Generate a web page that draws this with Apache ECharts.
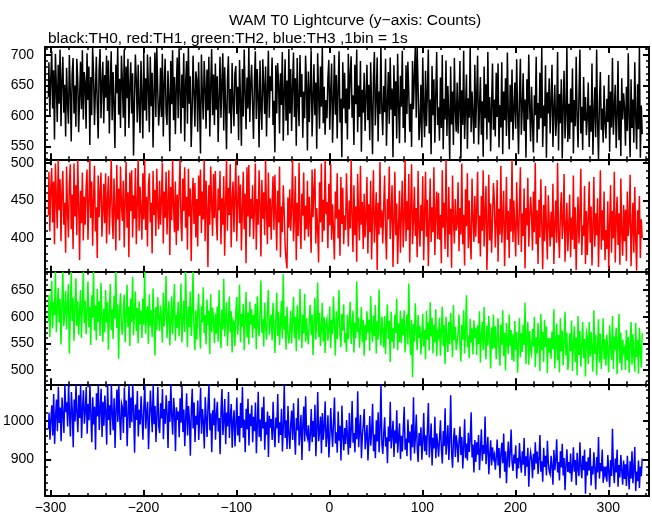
<!DOCTYPE html>
<html><head><meta charset="utf-8">
<script src="https://cdn.jsdelivr.net/npm/echarts@6/dist/echarts.min.js"></script>
<style>html,body{margin:0;padding:0;background:#fff}#c{width:652px;height:515px}</style>
</head><body><div id="c"></div>
<script>
const TITLE = 'WAM T0 Lightcurve (y\u2212axis: Counts)';
const SUBTITLE = 'black:TH0, red:TH1, green:TH2, blue:TH3 ,1bin = 1s';
const T0 = -302;   // time of first bin (s)
const BIN = 1;     // bin size (s)
const X_RANGE = [-305.7, 343.8];
const X_MAJOR = [-300,-200,-100,0,100,200,300];
const X_MINOR = [-300,-280,-260,-240,-220,-200,-180,-160,-140,-120,-100,-80,-60,-40,-20,0,20,40,60,80,100,120,140,160,180,200,220,240,260,280,300,320,340];
const Y_RANGES = [[528.6,713.2],[355.8,504.5],[473.2,684.3],[804.9,1094.3]];
const Y_MAJOR = [[550,600,650,700],[400,450,500],[500,550,600,650],[900,1000]];
const Y_MINOR = [
  [530,540,550,560,570,580,590,600,610,620,630,640,650,660,670,680,690,700,710],
  [360,370,380,390,400,410,420,430,440,450,460,470,480,490,500],
  [480,490,500,510,520,530,540,550,560,570,580,590,600,610,620,630,640,650,660,670,680],
  [820,840,860,880,900,920,940,960,980,1000,1020,1040,1060,1080]
];
const COLORS = ['#000000','#ff0000','#00ff00','#0000ff'];

const TH0 = [
631,688,598,662,706,612,675,561,702,648,590,684,620,709,583,657,697,605,651,566,
679,622,587,700,641,558,668,695,604,650,582,694,660,573,631,689,611,708,594,672,
655,579,703,626,681,552,664,601,713,670,585,640,697,617,563,676,710,596,652,689,
588,667,630,699,608,691,571,649,706,593,672,619,547,684,637,713,602,661,580,699,
654,597,709,566,681,629,694,580,648,688,604,670,535,622,701,658,589,684,617,572,
690,633,563,705,609,662,592,701,649,573,697,616,671,548,638,704,598,713,646,584,
614,679,598,702,566,652,694,606,585,674,631,542,690,619,708,593,664,570,647,696,
596,711,640,571,668,613,703,558,651,690,587,713,620,665,549,608,699,637,582,673,
660,574,688,617,538,701,635,594,690,646,579,676,609,697,566,650,710,601,668,585,
686,610,665,557,628,697,597,652,703,576,680,615,545,659,698,604,644,571,687,625,
583,669,682,603,648,560,692,626,551,677,599,709,640,578,663,612,713,590,651,684,
619,562,657,706,595,677,633,548,691,614,577,693,650,603,681,566,640,707,597,665,
641,696,585,625,540,683,604,687,652,571,670,618,705,559,636,693,592,658,568,710,
604,677,575,646,704,598,662,551,695,620,583,700,631,669,564,640,596,699,651,543,
673,590,644,708,566,627,685,601,655,546,703,637,579,681,615,713,588,648,569,626,
596,661,692,577,639,686,556,621,700,602,667,563,645,706,589,628,532,688,612,671,
588,645,561,702,611,667,698,597,634,552,684,619,709,573,650,598,690,541,643,605,
671,575,632,684,593,651,560,688,617,537,662,705,584,627,696,558,640,603,713,611,
568,649,606,694,551,621,672,587,696,610,645,532,683,600,657,563,702,618,555,666,
615,707,580,644,556,683,603,689,637,574,620,549,690,611,664,713,597,713,648,560,
590,651,548,696,612,565,674,583,638,709,571,627,537,682,601,660,556,633,705,585,
614,559,663,580,700,545,628,594,691,567,649,603,529,681,586,640,552,695,609,574,
655,571,618,690,530,642,585,707,562,611,668,546,629,597,713,573,640,602,554,684,
580,633,699,553,610,664,569,624,533,681,596,652,561,705,589,631,542,615,686,577,
627,566,671,598,686,548,618,581,688,537,640,593,662,567,704,604,545,651,590,676,
560,610,655,579,693,604,537,632,694,569,612,670,575,627,531,660,594,701,616,558,
648,589,540,634,601,697,556,621,578,671,596,713,549,617,583,683,531,639,604,662,
571,625,684,549,609,651,567,596,705,543,636,588,660,530,618,674,563,602,713,557,
620,562,645,589,678,538,626,583,697,601,548,633,709,571,615,544,664,592,631,568,
598,655,549,617,574,686,536,603,647,565,709,590,529,624,672,577,612,556,650,588,
563,628,590,667,541,640,581,695,569,612,651,547,601,690,560,625,534,662,594,637,
612,551,648,575,703,594,532,660,580,627,556,688,599,545,652,578,713,531,617,570
];
const TH1 = [
430,488,409,466,493,421,475,392,499,452,413,504,437,478,396,461,489,418,447,381,
495,437,401,472,498,412,458,386,499,429,470,404,504,446,371,463,420,487,397,455,
418,467,491,398,445,504,427,475,390,452,496,409,441,374,483,428,460,487,402,437,
472,420,486,393,451,482,405,448,504,430,399,479,438,384,497,425,466,397,495,444,
423,476,388,450,501,414,461,375,487,436,490,401,457,426,493,392,446,504,410,468,
437,398,486,425,504,411,455,389,470,486,421,447,380,489,431,464,403,492,440,412,
476,418,451,500,393,462,427,488,405,446,490,378,468,424,504,443,408,475,391,458,
410,463,504,422,396,479,436,494,414,455,385,492,429,466,370,447,480,419,473,401,
452,389,483,430,491,407,462,425,504,396,476,440,362,470,418,495,446,403,485,427,
489,424,397,466,437,489,392,453,418,482,377,446,504,410,467,431,498,388,451,475,
408,457,504,396,446,483,420,471,384,437,488,412,459,367,494,429,497,402,452,426,
470,399,438,499,385,452,418,490,443,376,477,426,461,404,504,434,392,487,415,453,
398,446,482,411,484,432,384,463,421,495,375,442,408,470,436,391,372,360,454,414,
465,410,441,504,396,428,482,371,447,403,500,421,386,459,430,487,397,443,412,476,
402,455,422,381,491,428,463,492,393,440,412,368,474,421,499,395,451,410,504,432,
448,387,472,417,499,398,445,411,372,462,426,486,400,438,377,481,419,467,392,430,
411,486,435,389,450,413,504,427,382,470,404,442,369,485,429,397,496,418,448,386,
459,401,430,481,380,445,408,476,372,433,490,394,426,461,358,447,405,501,414,437,
393,441,483,410,372,452,425,495,399,433,470,362,421,488,404,446,366,417,463,381,
432,476,388,425,504,396,449,411,485,368,436,498,392,423,468,403,440,375,489,414,
389,444,410,482,371,430,488,402,451,363,420,479,395,441,408,494,378,433,462,399,
460,398,431,367,490,414,447,386,504,422,375,468,405,439,361,483,425,393,452,410,
419,474,383,440,405,499,392,431,364,465,416,486,387,450,400,372,479,427,395,456,
402,437,488,393,430,376,456,410,490,389,435,469,358,414,484,397,446,381,424,473,
451,388,420,477,369,439,405,496,394,428,463,363,417,481,398,436,374,452,409,504,
395,450,412,376,474,421,391,446,494,382,433,403,466,360,440,417,480,389,428,455,
430,384,462,408,500,392,437,366,451,401,478,419,359,444,396,469,412,372,457,421,
389,435,401,472,366,418,450,394,500,408,374,432,461,399,421,485,369,413,447,383,
415,458,375,427,398,483,386,441,358,414,455,393,430,492,378,417,403,469,366,436,
378,426,475,394,442,364,415,481,389,433,404,453,362,418,490,385,437,397,462,371,
411,386,449,359,420,470,381,436,400,488,368,425,455,391,433,365,479,408,377,444,
396,438,370,462,403,421,484,363,412,447,381,468,399,357,437,405,456,374,425,400
];
const TH2 = [
590,641,562,619,667,578,628,603,684,571,615,654,589,633,548,622,684,582,609,648,
576,624,661,531,602,684,592,635,555,617,672,583,629,566,611,650,560,620,684,588,
630,567,609,666,580,618,547,640,598,684,574,621,556,652,590,629,564,663,604,553,
615,571,650,589,627,538,608,661,575,614,558,639,596,684,579,623,521,610,644,583,
566,612,641,552,601,660,580,619,545,634,590,675,565,607,647,573,616,550,629,586,
611,560,634,585,684,568,603,620,549,642,583,612,562,653,591,527,618,574,637,598,
573,621,597,551,645,582,609,676,560,600,629,546,588,638,567,613,661,555,604,579,
628,563,601,662,552,588,630,571,684,606,543,619,580,647,564,607,684,576,537,612,
557,606,643,581,540,620,589,655,569,603,548,632,584,611,530,642,571,617,595,550,
606,568,619,553,650,585,541,613,576,671,563,598,627,545,587,638,571,610,533,594,
589,545,609,637,566,596,660,552,605,581,624,537,592,646,561,608,548,628,585,614,
560,603,578,624,539,638,584,563,609,668,570,595,544,626,581,557,612,650,566,593,
604,556,626,580,532,594,645,564,609,547,587,630,559,680,575,601,538,619,570,550,
575,611,550,594,637,560,600,535,621,583,556,652,590,541,604,568,643,553,597,565,
548,598,622,566,604,528,586,635,557,593,664,562,607,545,580,626,553,599,532,587,
596,555,576,619,541,594,567,638,584,527,610,558,597,650,566,543,605,574,623,551,
570,534,603,558,592,628,549,580,611,533,589,560,666,571,598,542,577,618,553,594,
527,585,556,610,570,594,536,639,577,553,602,564,622,531,591,557,651,575,546,600,
573,542,601,530,584,623,558,592,515,609,553,578,540,604,569,634,537,587,552,611,
550,596,565,612,533,577,604,548,662,571,528,594,487,586,553,625,570,537,603,560,
582,529,562,605,544,575,520,611,557,589,536,627,563,598,531,585,552,614,526,571,
563,598,527,572,619,545,584,511,600,559,534,590,549,607,568,524,622,556,581,537,
535,569,604,548,516,585,557,612,531,574,640,543,565,522,596,551,578,529,593,560,
579,528,584,549,610,514,563,590,537,618,552,520,583,546,601,561,503,580,539,604,
541,582,520,559,597,536,508,585,547,612,526,570,499,588,553,530,604,545,575,519,
567,516,592,538,571,495,552,598,524,569,534,585,547,626,511,558,590,510,573,537,
529,577,544,600,505,561,531,588,550,498,605,537,571,515,594,543,582,494,560,533,
560,521,572,539,614,503,551,587,518,566,496,597,535,574,509,553,609,527,570,500,
517,569,535,593,498,548,582,515,561,490,601,528,573,506,546,590,522,558,488,571,
562,511,590,525,571,539,497,612,530,566,490,546,595,514,568,502,541,597,520,558,
508,566,531,496,584,545,519,601,502,563,537,579,492,550,605,513,570,499,557,534,
541,500,575,518,562,495,548,590,510,567,529,497,588,524,556,493,579,536,505,569
];
const TH3 = [
978,1021,951,1003,1040,962,1069,940,1012,1055,973,1088,994,1034,947,1060,1015,968,1094,1022,
1048,985,1094,1016,959,1074,1027,931,1055,998,1094,1020,970,1066,1007,1094,955,1031,1079,992,
1023,1087,966,1043,1001,1094,1013,944,1061,990,1036,925,1071,1011,1094,976,1029,1083,958,1049,
987,1065,1021,938,1094,1002,1040,963,1094,1018,975,1058,929,1027,1081,997,1094,1009,950,1044,
1033,968,1086,1010,1052,934,1015,1094,981,1060,996,1094,1024,917,1042,1002,1077,959,1028,990,
1063,1007,951,1036,1092,979,1019,1049,926,1001,1078,1025,970,1094,991,1038,945,1014,1087,985,
968,1045,1006,1082,952,1030,992,1066,1018,929,1051,997,1094,1011,964,1059,1023,921,1035,1002,
1024,957,1058,995,1090,971,1029,934,1006,1071,962,1038,1001,909,1026,1083,980,1047,945,1013,
990,1052,950,1012,1085,966,1030,997,928,1061,1009,958,1040,1094,975,1019,918,1027,988,1058,
951,1015,1049,972,1007,913,1030,1082,963,1002,1056,939,1021,985,1074,955,1011,1043,930,999,
1027,933,991,1060,962,1012,944,1046,981,1087,956,1003,918,1031,978,1057,936,1018,986,1040,
944,1010,973,1047,916,989,1075,958,1003,947,1035,980,1062,925,997,964,1024,906,1013,982,
1004,950,1049,971,931,1008,980,1069,942,996,963,1031,920,985,1094,955,1001,927,1038,966,
927,992,1026,950,1045,968,912,1007,975,1058,936,969,1015,898,990,1037,946,1063,966,955,
988,921,963,1030,944,999,958,1041,908,979,1074,947,972,1011,916,1020,951,985,1050,932,
963,1014,905,955,1033,976,932,998,1060,941,970,917,1024,948,987,897,1039,960,923,981,
940,1002,958,912,1020,929,975,1051,943,968,918,1008,952,1076,931,977,1015,903,962,990,
1030,926,958,989,897,950,1012,935,972,1044,921,964,903,1001,946,1022,918,978,1094,940,
914,968,1009,933,957,890,985,946,1049,928,963,1000,906,975,941,1027,917,956,993,901,
961,920,979,1036,925,954,908,1003,943,972,897,990,931,1061,915,955,1016,930,893,968,
935,983,899,948,1020,921,962,911,977,1046,905,944,993,884,956,928,1010,903,967,939,
907,955,1001,925,889,973,934,1032,912,946,988,898,951,1066,917,878,950,981,906,962,
940,892,947,985,911,958,876,931,1004,903,941,897,969,919,952,1022,905,938,866,950,
893,944,912,963,872,925,978,896,937,914,1011,887,926,958,861,910,949,884,931,902,
912,873,905,951,884,929,851,914,943,890,967,868,921,838,902,946,879,918,977,893,
870,912,889,936,850,903,876,942,894,865,921,886,955,857,908,881,930,829,897,918,
899,851,914,873,944,889,920,862,901,963,868,895,842,930,880,909,858,948,891,869,
861,909,882,834,924,872,897,952,866,893,845,921,879,940,858,903,820,884,926,867,
893,864,915,842,880,931,868,898,833,917,875,856,944,880,851,909,872,925,811,894,
858,905,871,929,832,882,861,918,876,822,906,866,958,850,890,869,925,839,881,860,
881,842,911,869,828,898,857,979,874,838,902,866,925,829,885,853,911,870,834,897,
849,887,831,909,863,822,895,850,921,838,874,932,818,868,843,897,826,881,856,902
];
const SERIES_DATA = [TH0, TH1, TH2, TH3];

const FONT = 'Liberation Sans';
const tops = [47, 159.3, 271.7, 384.3];
const heights = [112.3, 112.4, 112.6, 111.7];
const minus = v => (v < 0 ? '\u2212' + (-v) : String(v));

const grid = [], xAxis = [], yAxis = [], series = [];
let gi = 0;
for (let k = 0; k < 4; k++) {
  for (let layer = 0; layer < 2; layer++) {
    const major = layer === 0;
    grid.push({left: 45, right: 3, top: tops[k], height: heights[k]});
    ['bottom', 'top'].forEach(pos => {
      xAxis.push({
        type: 'value', gridIndex: gi, position: pos,
        min: X_RANGE[0], max: X_RANGE[1],
        splitLine: {show: false},
        axisLine: {show: major, onZero: false, lineStyle: {color: '#000', width: 2}},
        axisTick: {show: true, inside: true, length: major ? 6 : 3,
          customValues: major ? X_MAJOR : X_MINOR,
          lineStyle: {color: '#000', width: major ? 2 : 1.5}},
        axisLabel: {show: major && pos === 'bottom' && k === 3, customValues: X_MAJOR,
          formatter: minus, color: '#000', fontSize: 14, fontFamily: FONT, margin: 5}
      });
    });
    ['left', 'right'].forEach(pos => {
      yAxis.push({
        type: 'value', gridIndex: gi, position: pos,
        min: Y_RANGES[k][0], max: Y_RANGES[k][1],
        splitLine: {show: false},
        axisLine: {show: major, onZero: false, lineStyle: {color: '#000', width: 2}},
        axisTick: {show: true, inside: true, length: major ? 6 : 3,
          customValues: major ? Y_MAJOR[k] : Y_MINOR[k],
          lineStyle: {color: '#000', width: major ? 2 : 1.5}},
        axisLabel: {show: major && pos === 'left', customValues: Y_MAJOR[k],
          formatter: v => String(v),
          color: '#000', fontSize: 14, fontFamily: FONT, margin: 11}
      });
    });
    if (major) {
      series.push({
        type: 'line', xAxisIndex: 2 * gi, yAxisIndex: 2 * gi,
        data: SERIES_DATA[k].map((v, i) => [T0 + i * BIN, v]),
        step: 'middle', showSymbol: false, symbol: 'none', silent: true,
        sampling: null, clip: true,
        lineStyle: {color: COLORS[k], width: 1.5, join: 'miter', cap: 'butt'}
      });
    }
    gi++;
  }
}

const chart = echarts.init(document.getElementById('c'), null, {renderer: 'canvas'});
chart.setOption({
  animation: false,
  backgroundColor: '#fff',
  title: [
    {text: TITLE, left: 350, top: 8, textAlign: 'center',
     textStyle: {fontSize: 15.5, fontWeight: 'normal', color: '#000', fontFamily: FONT}},
    {text: SUBTITLE, left: 43, top: 26,
     textStyle: {fontSize: 15.5, fontWeight: 'normal', color: '#000', fontFamily: FONT}}
  ],
  grid, xAxis, yAxis, series
});
</script>
</body></html>
